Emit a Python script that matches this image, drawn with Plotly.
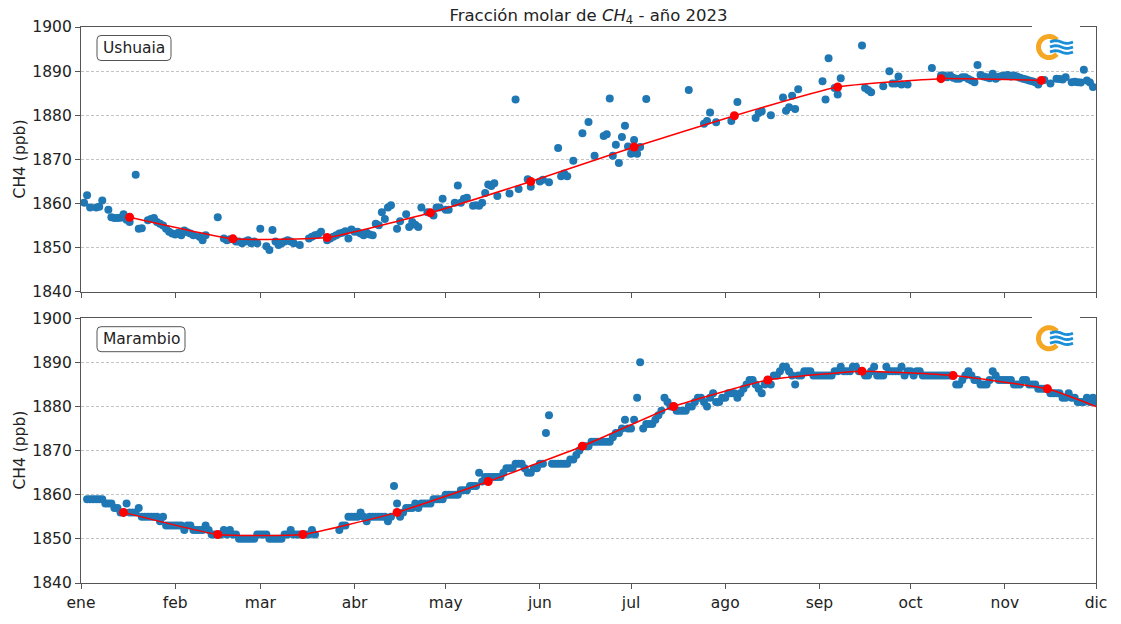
import numpy as np
import pandas as pd
import plotly.graph_objects as go
from plotly.subplots import make_subplots

YEAR_START = pd.Timestamp("2023-01-01")

month_ticks = ["2023-%02d-01" % m for m in range(1, 13)]
month_labels = ["ene", "feb", "mar", "abr", "may", "jun",
                "jul", "ago", "sep", "oct", "nov", "dic"]

# ---------------- Ushuaia: day of year (0 = 1 ene) and daily CH4 (ppb)
ush_day = [1, 2, 3, 5, 6, 7, 9, 10, 11, 12, 13, 14, 15, 16, 18, 19, 20, 22, 23, 24,
           25, 26, 27, 28, 29, 30, 31, 32, 33, 34, 35, 36, 37, 39, 40, 41, 45, 47, 48, 49,
           51, 52, 53, 54, 55, 56, 57, 58, 59, 61, 62, 63, 64, 65, 66, 67, 68, 69, 70, 72,
           75, 76, 77, 78, 79, 81, 82, 83, 84, 85, 86, 87, 88, 89, 90, 91, 92, 93, 94, 95,
           96, 97, 98, 99, 100, 101, 102, 104, 105, 107, 108, 109, 110, 111, 112, 114, 116, 117, 118, 119,
           120, 121, 123, 124, 125, 126, 127, 129, 130, 131, 132, 133, 134, 135, 136, 137, 141, 143, 144, 147,
           148, 151, 152, 154, 157, 158, 159, 160, 162, 165, 167, 169, 172, 173, 174, 175, 176, 177, 178, 179,
           180, 181, 182, 183, 184, 186, 200, 205, 206, 207, 209, 214, 216, 222, 223, 224, 227, 231, 232, 233,
           234, 235, 236, 244, 245, 246, 248, 249, 250, 257, 258, 259, 260, 264, 266, 267, 268, 269, 270, 272,
           280, 283, 284, 285, 286, 287, 288, 289, 290, 291, 292, 293, 294, 295, 296, 297, 298, 299, 300, 301,
           302, 303, 304, 305, 306, 307, 308, 309, 310, 311, 312, 313, 314, 315, 317, 319, 321, 322, 323, 324,
           326, 327, 328, 329, 330, 331, 332, 333]
ush_ch4 = [1860.2, 1861.9, 1859.1, 1859.1, 1859.3, 1860.7, 1858.6, 1856.9, 1856.7, 1856.7,
           1856.8, 1857.6, 1856.3, 1855.8, 1866.5, 1854.3, 1854.4, 1856.2, 1856.5, 1856.7,
           1855.8, 1855.4, 1855.0, 1854.3, 1853.6, 1853.2, 1853.0, 1853.4, 1852.8, 1853.9,
           1853.5, 1853.2, 1852.8, 1852.5, 1851.7, 1852.8, 1856.9, 1852.1, 1851.7, 1851.9,
           1851.4, 1851.4, 1851.0, 1851.4, 1851.7, 1851.0, 1851.4, 1851.0, 1854.3, 1850.3,
           1849.5, 1854.0, 1851.4, 1850.6, 1851.0, 1851.4, 1851.7, 1851.4, 1851.0, 1850.6,
           1852.1, 1852.5, 1852.8, 1853.0, 1853.6, 1851.7, 1852.1, 1852.5, 1852.8, 1853.2,
           1853.4, 1853.7, 1852.1, 1854.1, 1853.6, 1853.6, 1853.2, 1852.8, 1853.4, 1853.0,
           1852.8, 1855.4, 1855.1, 1858.0, 1856.5, 1859.1, 1859.6, 1854.3, 1856.0, 1857.6,
           1854.7, 1855.8, 1855.2, 1854.7, 1859.1, 1858.0, 1857.3, 1859.1, 1859.1, 1861.1,
           1858.6, 1858.6, 1860.2, 1864.1, 1860.2, 1861.1, 1861.3, 1859.5, 1859.6, 1859.5,
           1860.2, 1862.4, 1864.3, 1864.0, 1864.6, 1861.7, 1862.3, 1883.6, 1863.3, 1865.5,
           1863.8, 1865.0, 1865.4, 1864.8, 1872.6, 1866.2, 1866.8, 1866.2, 1869.7, 1875.9,
           1878.5, 1870.8, 1875.3, 1875.7, 1883.8, 1870.8, 1873.3, 1869.2, 1875.1, 1877.6,
           1872.9, 1871.3, 1874.4, 1871.3, 1872.8, 1883.7, 1885.7, 1878.1, 1878.7, 1880.6,
           1878.4, 1878.7, 1883.0, 1879.4, 1880.5, 1880.9, 1880.0, 1884.0, 1881.0, 1881.8,
           1884.4, 1881.4, 1885.9, 1887.7, 1883.6, 1892.9, 1886.2, 1884.7, 1888.4, 1895.8,
           1886.2, 1885.7, 1885.2, 1886.6, 1890.0, 1887.2, 1887.2, 1888.8, 1887.0, 1887.0,
           1890.7, 1889.0, 1889.0, 1888.6, 1889.0, 1888.5, 1888.3, 1888.3, 1888.6, 1888.6,
           1888.2, 1887.9, 1887.5, 1891.4, 1889.1, 1888.8, 1888.6, 1888.4, 1889.4, 1888.3,
           1888.7, 1888.9, 1889.0, 1889.1, 1888.8, 1889.0, 1888.8, 1888.5, 1888.3, 1888.1,
           1887.9, 1887.7, 1887.5, 1887.0, 1888.0, 1887.2, 1888.3, 1888.2, 1888.1, 1888.6,
           1887.5, 1887.6, 1887.5, 1887.4, 1890.3, 1887.9, 1887.4, 1886.4]

# Ushuaia smoothed curve nodes
ush_fit_day = [16, 50, 81, 115, 148, 182, 215, 249, 283, 316]
ush_fit = [1856.9, 1852.0, 1852.3, 1857.9, 1865.0, 1872.8, 1879.9, 1886.4, 1888.3, 1887.9]

# ---------------- Marambio: one value per day from 1 ene to 1 dic (None = no data)
mar_ch4 = [
    # ene
    None, None, 1859, 1859, 1859, 1859, 1859, 1859, 1858, 1858, 1858, 1857, 1857, 1856, 1856, 1858,
    1856, 1856, 1856, 1857, 1855, 1855, 1855, 1855, 1855, 1855, 1854, 1855, 1853, 1853, 1853,
    # feb
    1853, 1853, 1853, 1852, 1853, 1853, 1852, 1852, 1852, 1852, 1853, 1852, 1851, 1851, 1851, 1851,
    1852, 1851, 1852, 1851, 1851, 1850, 1850, 1850, 1850, 1850, 1850, 1851,
    # mar
    1851, 1851, 1851, 1850, 1850, 1850, 1850, 1850, 1851, 1851, 1852, 1851, 1851, 1851, 1851, 1851,
    1851, 1852, 1851, None, None, None, None, None, None, None, 1852, 1853, 1853, 1855, 1855,
    # abr
    1855, 1855, 1856, 1855, 1854, 1855, 1855, 1855, 1855, 1855, 1855, 1854, 1855, 1862, 1858, 1855,
    1856, 1857, 1857, 1857, 1858, 1857, 1858, 1858, 1858, 1858, 1859, 1859, 1859, 1859,
    # may
    1860, 1860, 1860, 1860, 1860, 1861, 1861, 1861, 1862, 1862, 1862, 1865, 1863, 1864, 1864, 1864,
    1864, 1864, 1864, 1865, 1866, 1866, 1866, 1867, 1867, 1867, 1866, 1865, 1865, 1866, 1866,
    # jun
    1867, 1867, 1874, 1878, 1867, 1867, 1867, 1867, 1867, 1867, 1868, 1868, 1869, 1870, 1871, 1871,
    1871, 1872, 1872, 1872, 1872, 1872, 1872, 1872, 1873, 1874, 1874, 1875, 1877, 1875,
    # jul
    1875, 1877, 1882, 1890, 1875, 1876, 1876, 1876, 1877, 1878, 1879, 1882, 1881, 1880, 1880, 1879,
    1879, 1879, 1879, 1880, 1880, 1881, 1882, 1882, 1881, 1880, 1882, 1883, 1881, 1881, 1882,
    # ago
    1882, 1883, 1883, 1883, 1882, 1883, 1884, 1885, 1886, 1886, 1885, 1884, 1883, 1885, 1886, 1885,
    1887, 1887, 1888, 1889, 1889, 1888, 1887, 1885, 1887, 1887, 1888, 1888, 1888, 1887, 1887,
    # sep
    1887, 1887, 1887, 1887, 1887, 1888, 1888, 1889, 1888, 1888, 1888, 1889, 1889, 1888, 1888, 1887,
    1887, 1888, 1889, 1887, 1887, 1887, 1889, 1888, 1888, 1888, 1888, 1889, 1887, 1888,
    # oct
    1888, 1887, 1888, 1888, 1887, 1887, 1887, 1887, 1887, 1887, 1887, 1887, 1887, 1887, 1887, 1885,
    1885, 1886, 1887, 1888, 1887, 1886, 1886, 1885, 1885, 1885, 1886, 1888, 1887, 1886, 1886,
    # nov
    1886, 1886, 1886, 1885, 1885, 1885, 1886, 1886, 1885, 1885, 1885, 1884, 1884, 1884, 1884, 1883,
    1883, 1883, 1883, 1882, 1882, 1883, 1882, 1882, 1881, 1881, 1881, 1882, 1881, 1882,
    # dic
    1881,
]

# Marambio monthly values (15th of each month) and end of the curve
mar_fit_dates = ["2023-%02d-15" % m for m in range(1, 12)]
mar_fit = [1856, 1851, 1851, 1856, 1863, 1871, 1880, 1886, 1888, 1887, 1884]
mar_fit_end_date = "2023-12-01"
mar_fit_end = 1880

BLUE = "#1f77b4"
RED = "#ff0000"
FRAME = "#555555"
FONT = "DejaVu Sans"
TXT = "#222222"


def to_dates(days):
    return [YEAR_START + pd.Timedelta(days=int(d)) for d in days]


ush_dates = to_dates(ush_day)
ush_fit_dates = to_dates(ush_fit_day)
mar_dates = pd.date_range(YEAR_START, periods=len(mar_ch4), freq="D")

fig = make_subplots(rows=2, cols=1, shared_xaxes=True, vertical_spacing=27 / 569)

# daily observations
fig.add_trace(go.Scatter(x=ush_dates, y=ush_ch4, mode="markers",
                         marker=dict(color=BLUE, size=8, line=dict(width=0)),
                         showlegend=False), row=1, col=1)
fig.add_trace(go.Scatter(x=mar_dates, y=mar_ch4, mode="markers",
                         marker=dict(color=BLUE, size=8, line=dict(width=0)),
                         showlegend=False), row=2, col=1)

# smoothed curves
fig.add_trace(go.Scatter(x=ush_fit_dates, y=ush_fit, mode="lines",
                         line=dict(color=RED, width=1.5, shape="spline", smoothing=0.4),
                         showlegend=False), row=1, col=1)
fig.add_trace(go.Scatter(x=ush_fit_dates, y=ush_fit, mode="markers",
                         marker=dict(color=RED, size=9), showlegend=False), row=1, col=1)
fig.add_trace(go.Scatter(x=mar_fit_dates + [mar_fit_end_date], y=mar_fit + [mar_fit_end],
                         mode="lines",
                         line=dict(color=RED, width=1.5, shape="spline", smoothing=0.4),
                         showlegend=False), row=2, col=1)
fig.add_trace(go.Scatter(x=mar_fit_dates, y=mar_fit, mode="markers",
                         marker=dict(color=RED, size=9), showlegend=False), row=2, col=1)

xcommon = dict(range=["2023-01-01", "2023-12-01"], tickmode="array",
               tickvals=month_ticks, ticktext=month_labels, ticks="outside",
               ticklen=5, tickcolor=FRAME, showline=True, linecolor=FRAME, linewidth=1.3,
               mirror=True, showgrid=False, zeroline=False,
               tickfont=dict(family=FONT, size=15.5, color=TXT))
ycommon = dict(range=[1840, 1900], tickmode="array", tickvals=list(range(1840, 1901, 10)),
               ticks="outside", ticklen=5, tickcolor=FRAME, showline=True, linecolor=FRAME,
               linewidth=1.3, mirror=True, showgrid=True, gridcolor="#c4c4c4",
               griddash="3px,2px", gridwidth=0.9, zeroline=False,
               tickfont=dict(family=FONT, size=15.5, color=TXT))

fig.update_xaxes(**xcommon)
fig.update_xaxes(showticklabels=False, row=1, col=1)
fig.update_yaxes(**ycommon)

fig.update_layout(
    width=1121, height=624,
    margin=dict(l=81, r=25, t=27, b=28),
    paper_bgcolor="white", plot_bgcolor="white",
    font=dict(family=FONT, size=15, color=TXT),
    title=dict(text="Fracción molar de <i>CH</i><sub>4</sub> - año 2023",
               x=0.5, xref="paper", xanchor="center",
               y=1 - 15 / 624, yref="container", yanchor="middle",
               font=dict(family=FONT, size=16.5, color=TXT)),
)

PLOT_W, PLOT_H, TOP, BOTTOM = 1015, 569, 27, 596


def px_x(px):
    return (px - 81) / PLOT_W


def px_y(py):
    return (BOTTOM - py) / PLOT_H


# y-axis titles
for cy in (162.5, 460.5):
    fig.add_annotation(text="CH4 (ppb)", x=px_x(20), y=px_y(cy), xref="paper", yref="paper",
                       textangle=-90, showarrow=False, xanchor="center", yanchor="middle",
                       font=dict(family=FONT, size=15.5, color=TXT))


def rounded_box(w, h, r):
    hw, hh = w / 2, h / 2
    return (f"M {-hw + r},{-hh} L {hw - r},{-hh} Q {hw},{-hh} {hw},{-hh + r} "
            f"L {hw},{hh - r} Q {hw},{hh} {hw - r},{hh} L {-hw + r},{hh} "
            f"Q {-hw},{hh} {-hw},{hh - r} L {-hw},{-hh + r} Q {-hw},{-hh} {-hw + r},{-hh} Z")


# station labels
for name, cx, cy, w in (("Ushuaia", 134, 48.5, 74), ("Marambio", 141, 346.5, 88)):
    fig.add_shape(type="path", path=rounded_box(w, 25, 4), xref="paper", yref="paper",
                  xsizemode="pixel", ysizemode="pixel", xanchor=px_x(cx), yanchor=px_y(cy),
                  line=dict(color=FRAME, width=1), fillcolor="white", layer="above")
    fig.add_annotation(text=name, x=px_x(cx), y=px_y(cy), xref="paper", yref="paper",
                       showarrow=False, xanchor="center", yanchor="middle",
                       font=dict(family=FONT, size=15.5, color=TXT))


# logo in the upper right corner of each panel
def add_logo(cx, cy, top_spine):
    # white patch behind the logo interrupting the top frame
    fig.add_shape(type="rect", xref="paper", yref="paper", ysizemode="pixel",
                  x0=px_x(1032), x1=px_x(1080), yanchor=px_y(top_spine), y0=-4, y1=4,
                  line=dict(width=0), fillcolor="white", layer="above")
    ang = np.radians(np.linspace(42, 318, 46))
    r = 10.5
    ring = "M " + " L ".join(f"{r * np.cos(a):.2f},{r * np.sin(a):.2f}" for a in ang)
    fig.add_shape(type="path", path=ring, xref="paper", yref="paper",
                  xsizemode="pixel", ysizemode="pixel", xanchor=px_x(cx), yanchor=px_y(cy),
                  line=dict(color="#f5a623", width=5), layer="above")
    xs = np.linspace(1, 24, 24)
    for dy in (5, 0, -5):
        wave = "M " + " L ".join(
            f"{x:.2f},{dy + 1.3 * np.sin((x - 1) / 23 * 2 * np.pi):.2f}" for x in xs)
        fig.add_shape(type="path", path=wave, xref="paper", yref="paper",
                      xsizemode="pixel", ysizemode="pixel", xanchor=px_x(cx), yanchor=px_y(cy),
                      line=dict(color="#1a8fd8", width=2.8), layer="above")


add_logo(1049, 47.5, 27)
add_logo(1049, 345.5, 325)

fig.write_html("out.html")
